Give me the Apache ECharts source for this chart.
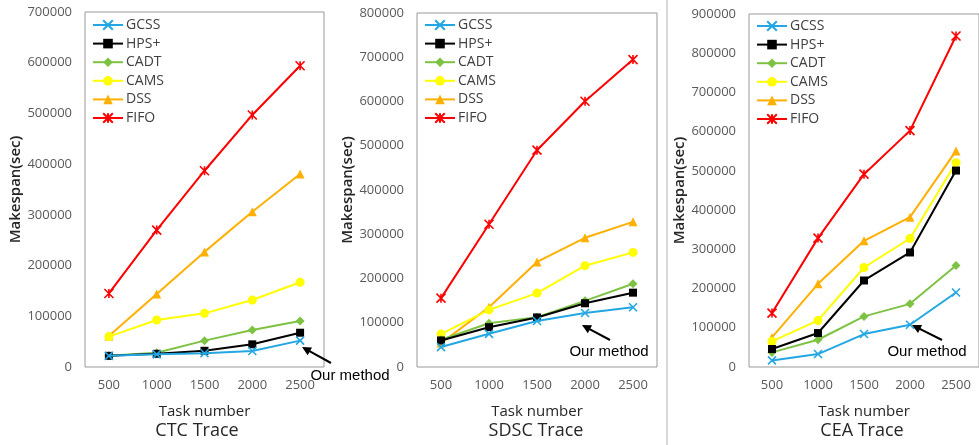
<!DOCTYPE html>
<html>
<head>
<meta charset="utf-8">
<script src="https://cdn.jsdelivr.net/npm/echarts@6/dist/echarts.min.js"></script>
<style>html,body{margin:0;padding:0;background:#fff;}#c{width:979px;height:445px;}</style>
</head>
<body>
<div id="c"></div>
<script>
// ---- data ----
const categories = ['500', '1000', '1500', '2000', '2500'];
const seriesNames = ['GCSS', 'HPS+', 'CADT', 'CAMS', 'DSS', 'FIFO'];
const panelTitles = ['CTC Trace', 'SDSC Trace', 'CEA Trace'];
const yMax = [700000, 800000, 900000];

const ctcGCSS = [22000, 25000, 27000, 31500, 52000];
const ctcHPS  = [22000, 26000, 32000, 44700, 67600];
const ctcCADT = [22300, 28000, 52000, 73000, 90700];
const ctcCAMS = [60000, 92700, 105800, 132000, 167000];
const ctcDSS  = [61000, 144000, 227000, 306000, 380600];
const ctcFIFO = [145000, 270000, 387000, 497000, 594000];

const sdscGCSS = [45000, 75000, 104000, 122000, 135000];
const sdscHPS  = [60000, 90000, 112000, 144000, 168000];
const sdscCADT = [61600, 99000, 112700, 149500, 188000];
const sdscCAMS = [74400, 129000, 167000, 229000, 259000];
const sdscDSS  = [54000, 135000, 237500, 292000, 328000];
const sdscFIFO = [155600, 322500, 490000, 600600, 694700];

const ceaGCSS = [16800, 33000, 84000, 107800, 190000];
const ceaHPS  = [45800, 86600, 220600, 292000, 500800];
const ceaCADT = [37200, 69500, 129000, 161000, 259000];
const ceaCAMS = [65200, 118700, 253700, 327600, 521000];
const ceaDSS  = [75400, 212000, 321700, 382000, 551000];
const ceaFIFO = [137500, 328600, 491600, 602700, 844000];

const panelData = [
  [ctcGCSS, ctcHPS, ctcCADT, ctcCAMS, ctcDSS, ctcFIFO],
  [sdscGCSS, sdscHPS, sdscCADT, sdscCAMS, sdscDSS, sdscFIFO],
  [ceaGCSS, ceaHPS, ceaCADT, ceaCAMS, ceaDSS, ceaFIFO]
];

// ---- styles ----
const colors = ['#22A7E2', '#000000', '#7DC243', '#FFFF00', '#FFB000', '#FF0000'];
const symbols = [
  'path://M0,0L10,10M10,0L0,10',
  'rect',
  'diamond',
  'circle',
  'triangle',
  'path://M0,0L10,10M10,0L0,10M5,0L5,10'
];
const symbolSizes = [8, 8, 9, 9, 9, 9];
const FONT = 'Open Sans';

const grids = [
  {left: 85, top: 12, width: 239, height: 355},
  {left: 417, top: 13, width: 240, height: 354},
  {left: 749, top: 14, width: 239, height: 353}
];
const legendPos = [{left: 92, top: 18}, {left: 424, top: 18}, {left: 756, top: 19}];
const titleX = [192, 531, 857];

const option = {
  animation: false,
  backgroundColor: '#fff',
  grid: grids.map(g => Object.assign({show: true, borderColor: '#999', borderWidth: 1, backgroundColor: 'transparent'}, g)),
  title: panelTitles.map((t, i) => ({
    text: t, left: titleX[i], top: 417, textAlign: 'center',
    textStyle: {fontFamily: FONT, fontSize: 18, fontWeight: 'normal', color: '#262626'}
  })),
  legend: legendPos.map(p => ({
    data: seriesNames, orient: 'vertical', left: p.left, top: p.top, padding: 0,
    itemWidth: 30, itemHeight: 12, itemGap: 4.6,
    textStyle: {fontFamily: FONT, fontSize: 14, color: '#404040', padding: [0, 0, 0, -2]}
  })),
  xAxis: grids.map((g, i) => ({
    type: 'category', gridIndex: i, data: categories, boundaryGap: true,
    name: 'Task number', nameLocation: 'middle', nameGap: 37,
    nameTextStyle: {fontFamily: FONT, fontSize: 15, color: '#262626'},
    axisLine: {show: false}, axisTick: {show: false},
    axisLabel: {fontFamily: FONT, fontSize: 13, color: '#595959', margin: 12}
  })),
  yAxis: grids.map((g, i) => ({
    type: 'value', gridIndex: i, min: 0, max: yMax[i], interval: 100000,
    name: 'Makespan(sec)', nameLocation: 'middle', nameGap: 60,
    nameTextStyle: {fontFamily: FONT, fontSize: 15, color: '#262626', fontWeight: 600},
    axisLine: {show: false}, axisTick: {show: false}, splitLine: {show: false},
    axisLabel: {fontFamily: FONT, fontSize: 13, color: '#595959', margin: 13, formatter: v => String(v)}
  })),
  series: [],
  graphic: []
};

panelData.forEach((arrs, p) => {
  arrs.forEach((vals, s) => {
    option.series.push({
      type: 'line', name: seriesNames[s], xAxisIndex: p, yAxisIndex: p,
      data: vals, symbol: symbols[s], symbolSize: symbolSizes[s], showSymbol: true,
      lineStyle: {color: colors[s], width: 2},
      itemStyle: {color: colors[s], borderColor: colors[s], borderWidth: (s === 0 || s === 5) ? 1.6 : 0},
      z: 2 + (5 - s)
    });
  });
});

// separator line between panel 2 and 3
option.graphic.push({type: 'line', shape: {x1: 667, y1: 0, x2: 667, y2: 445}, style: {stroke: '#cccccc', lineWidth: 1.5}, z: 0});

// "Our method" annotations (arrow tail -> head, text position)
const annotations = [
  {tail: [331, 363], head: [302, 347], text: [350, 376]},
  {tail: [610, 340], head: [582, 325], text: [609, 352]},
  {tail: [942, 340], head: [912, 325], text: [927, 352]}
];
annotations.forEach(a => {
  const dx = a.head[0] - a.tail[0], dy = a.head[1] - a.tail[1];
  const L = Math.sqrt(dx * dx + dy * dy);
  const ux = dx / L, uy = dy / L, nx = -uy, ny = ux;
  const bx = a.head[0] - ux * 9, by = a.head[1] - uy * 9;
  option.graphic.push({type: 'line', shape: {x1: a.tail[0], y1: a.tail[1], x2: bx + ux * 2, y2: by + uy * 2}, style: {stroke: '#000', lineWidth: 2}, z: 10});
  option.graphic.push({type: 'polygon', shape: {points: [a.head, [bx + nx * 4.5, by + ny * 4.5], [bx - nx * 4.5, by - ny * 4.5]]}, style: {fill: '#000'}, z: 10});
  option.graphic.push({type: 'text', x: a.text[0], y: a.text[1], style: {text: 'Our method', fontFamily: 'Liberation Sans', fontSize: 15, fill: '#000', align: 'center', verticalAlign: 'middle'}, z: 10});
});

const chart = echarts.init(document.getElementById('c'), null, {renderer: 'canvas'});
chart.setOption(option);
</script>
</body>
</html>
